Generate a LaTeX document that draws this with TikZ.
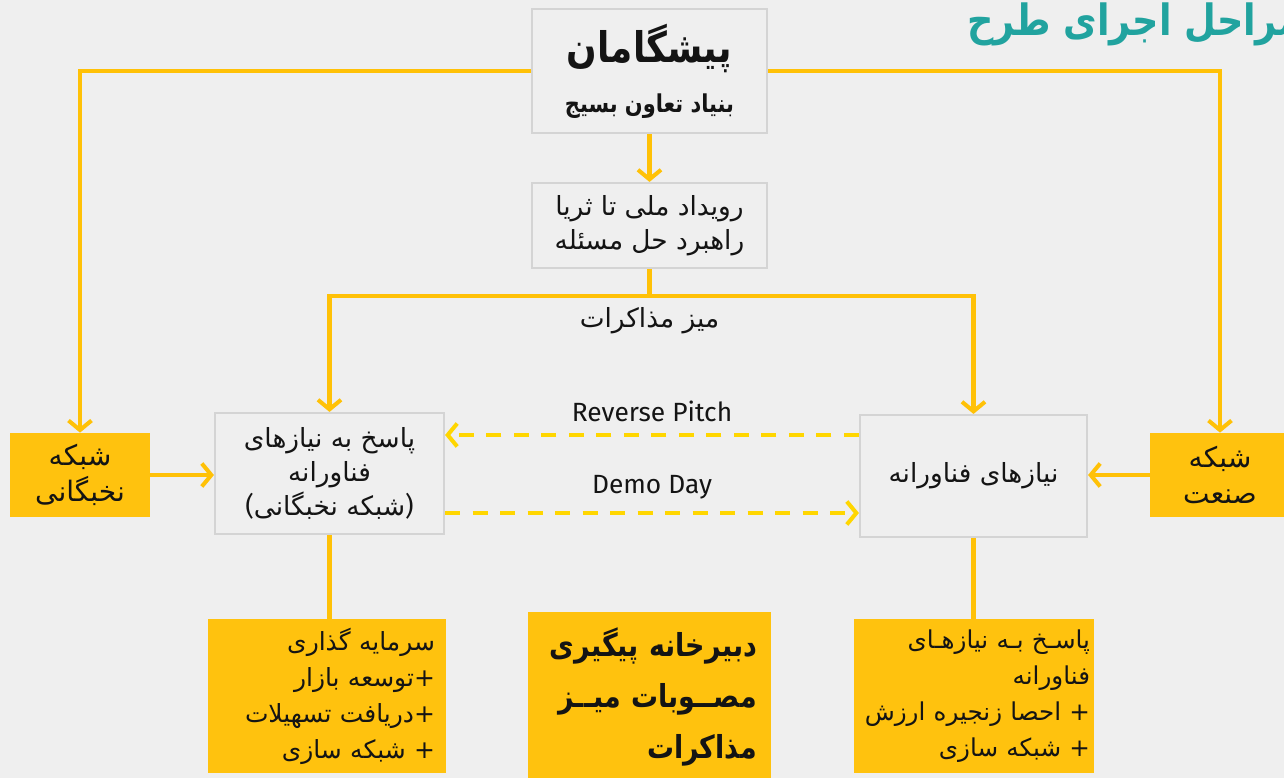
\documentclass[tikz,border=0pt]{standalone}
\usepackage{fontspec}
\setmainfont{Fira Sans}
\newfontfamily\farsi[Script=Arabic]{DejaVu Sans}
\newfontfamily\farsicond[Script=Arabic,FakeStretch=0.85]{DejaVu Sans}
\TeXXeTstate=1
\newcommand{\fa}[1]{{\farsi\beginR #1\endR}}
\newcommand{\fab}[1]{{\farsicond\bfseries\beginR #1\endR}}
\usetikzlibrary{positioning,arrows.meta}
\definecolor{pagegrey}{HTML}{EFEFEF}
\definecolor{boxline}{HTML}{D4D4D4}
\definecolor{ambfill}{HTML}{FFC20E}
\definecolor{ambline}{HTML}{FFC107}
\definecolor{dashyel}{HTML}{FFD600}
\definecolor{titleteal}{HTML}{21A39F}
\definecolor{inkc}{HTML}{141414}

\begin{document}
\begin{tikzpicture}[
        gbox/.style={draw=boxline, line width=1.2pt, fill=pagegrey, align=center, text=inkc, inner sep=0pt, font=\fontsize{15}{19.5}\selectfont},
        abox/.style={fill=ambfill, align=center, text=inkc, inner sep=0pt, font=\fontsize{16}{20.5}\selectfont},
        rbox/.style={abox, align=right, font=\fontsize{14.2}{20.5}\selectfont},
        link/.style={line width=2.3pt, draw=ambline},
        arr/.style={link, -{Straight Barb[length=1.9mm,width=4.6mm,line width=2.3pt]}},
        darr/.style={arr, draw=dashyel, dash pattern=on 0.3cm off 0.25cm},
        lbl/.style={text=inkc, font=\fontsize{15}{18}\selectfont}]
      \fill[pagegrey] (0,0) rectangle (25.68,-15.56);
      \useasboundingbox (0,0) rectangle (25.68,-15.56);
      % title
      \node[anchor=east, text=titleteal, font=\fontsize{24.5}{28}\selectfont] (title) at (26.15,-0.48) {\fab{مراحل اجرای طرح}};
      % top
      \node[gbox, minimum width=4.7cm, minimum height=2.48cm] (lead) at (12.99,-1.42) {{\fontsize{24}{28}\selectfont\fab{پیشگامان}}\\[9pt] {\fontsize{14}{17}\selectfont\fab{بنیاد تعاون بسیج}}};
      \node[gbox, minimum width=4.7cm, minimum height=1.7cm] (event) at (12.99,-4.51) {\fa{رویداد ملی تا ثریا}\\ \fa{راهبرد حل مسئله}};
      \coordinate (split) at (12.99,-5.92);
      % middle row
      \node[abox, minimum width=2.8cm, minimum height=1.68cm] (elite) at (1.6,-9.5) {\fa{شبکه}\\ \fa{نخبگانی}};
      \node[gbox, minimum width=4.58cm, minimum height=2.42cm] (answer) at (6.59,-9.47) {\fa{پاسخ به نیازهای}\\ \fa{فناورانه}\\ (\fa{شبکه نخبگانی})};
      \node[gbox, minimum width=4.54cm, minimum height=2.44cm] (needs) at (19.47,-9.52) {\fa{نیازهای فناورانه}};
      \node[abox, minimum width=2.8cm, minimum height=1.68cm] (industry) at (24.4,-9.5) {\fa{شبکه}\\ \fa{صنعت}};
      % bottom row
      \node[rbox, minimum width=4.76cm, minimum height=3.08cm, text width=4.32cm] (invest) at (6.54,-13.92) {\fa{سرمایه گذاری}\\ \fa{توسعه بازار}{\farsi +}\\ \fa{دریافت تسهیلات}{\farsi +}\\ \fa{شبکه سازی} {\farsi +}};
      \node[rbox, minimum width=4.86cm, minimum height=3.4cm, text width=4.3cm, font=\fontsize{18}{29}\selectfont] (office) at (12.99,-13.94) {\fab{دبیرخانه پیگیری}\\ \fab{مصــوبات میــز}\\ \fab{مذاکرات}};
      \node[rbox, minimum width=4.8cm, minimum height=3.08cm, text width=4.64cm, font=\fontsize{14}{20.5}\selectfont] (value) at (19.48,-13.92) {\fa{پاسـخ بـه نیازهـای}\\ \fa{فناورانه}\\ \fa{احصا زنجیره ارزش} {\farsi +}\\ \fa{شبکه سازی} {\farsi +}};
      % links
      \draw[arr] (lead.west) -| (elite.north);
      \draw[arr] (lead.east) -| (industry.north);
      \draw[arr] (lead) -- (event);
      \draw[link] (event.south) -- (split);
      \draw[arr] (split) -| (answer.north);
      \draw[arr] (split) -| (needs.north);
      \node[lbl] (table) at (12.99,-6.42) {\fa{میز مذاکرات}};
      \draw[arr] (elite.east) -- (elite.east -| answer.west);
      \draw[arr] (industry.west) -- (industry.west -| needs.east);
      \draw[darr] ([yshift=0.82cm]needs.west) -- node[lbl, above=0.1cm] (rev) {Reverse Pitch} ([yshift=0.82cm]needs.west -| answer.east);
      \draw[darr] ([yshift=-0.79cm]answer.east) -- node[lbl, above=0.12cm] (demo) {Demo Day} ([yshift=-0.79cm]answer.east -| needs.west);
      \draw[link] (answer.south) -- (answer.south |- invest.north);
      \draw[link] (needs.south) -- (needs.south |- value.north);
    \end{tikzpicture}
\end{document}
